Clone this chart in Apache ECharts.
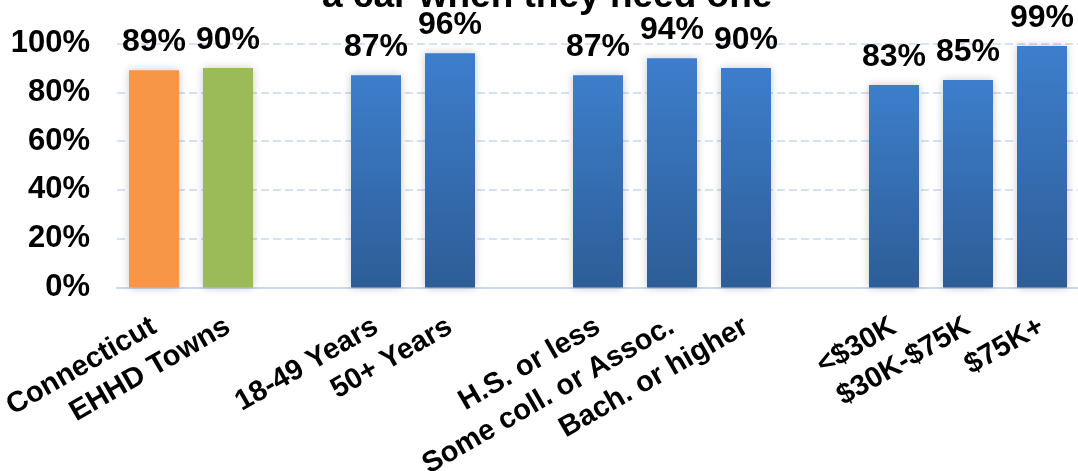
<!DOCTYPE html>
<html>
<head>
<meta charset="utf-8">
<script src="https://cdn.jsdelivr.net/npm/echarts@6/dist/echarts.min.js"></script>
<style>
html, body { margin: 0; padding: 0; background: #fff; }
#chart { width: 1078px; height: 471px; }
</style>
</head>
<body>
<div id="chart"></div>
<script>
// categories, empty strings are the spacer slots between groups
var categories = ['Connecticut', 'EHHD Towns', '', '18-49 Years', '50+ Years', '',
    'H.S. or less', 'Some coll. or Assoc.', 'Bach. or higher', '',
    '<$30K', '$30K-$75K', '$75K+'];
var percents = [89, 90, null, 87, 96, null, 87, 94, 90, null, 83, 85, 99];
var yTicks = [0, 20, 40, 60, 80, 100];
var titleText = 'a car when they need one';

var chartDom = document.getElementById('chart');
var myChart = echarts.init(chartDom);

var blue = new echarts.graphic.LinearGradient(0, 0, 0, 1, [
    { offset: 0, color: '#3d7ecc' },
    { offset: 1, color: '#2d5d97' }
]);

function barColor(i) {
    if (i === 0) return '#f79646';
    if (i === 1) return '#9bbb59';
    return blue;
}

var barData = percents.map(function (v, i) {
    if (v === null) return '-';
    return { value: v, itemStyle: { color: barColor(i) } };
});

var option = {
    animation: false,
    textStyle: { fontFamily: 'Liberation Sans, Arial, sans-serif' },
    title: {
        text: titleText,
        left: 317,
        top: -27,
        textStyle: { fontSize: 37, fontWeight: 'bold', color: '#000' }
    },
    grid: {
        left: 117,
        top: 43.5,
        width: 962,
        height: 244,
        containLabel: false,
        outerBoundsMode: 'none'
    },
    xAxis: {
        type: 'category',
        data: categories,
        axisTick: { show: false },
        axisLine: { lineStyle: { color: '#c9d9ee', width: 2 } },
        axisLabel: {
            interval: 0,
            rotate: 30,
            margin: 37,
            color: '#000',
            fontSize: 29,
            fontWeight: 'bold'
        }
    },
    yAxis: {
        type: 'value',
        min: yTicks[0],
        max: yTicks[yTicks.length - 1],
        interval: 20,
        axisLine: { show: false },
        axisTick: { show: false },
        axisLabel: {
            formatter: '{value}%',
            margin: 27,
            color: '#000',
            fontSize: 31,
            fontWeight: 'bold'
        },
        splitLine: {
            lineStyle: { color: '#d5e2f3', width: 2, type: [8, 4] }
        }
    },
    series: [{
        type: 'bar',
        data: barData,
        barWidth: 50,
        itemStyle: {
            shadowBlur: 8,
            shadowColor: 'rgba(0,0,0,0.22)'
        },
        label: {
            show: true,
            position: 'top',
            distance: 12,
            formatter: '{c}%',
            color: '#000',
            fontSize: 32,
            fontWeight: 'bold'
        }
    }]
};

myChart.setOption(option);
window.addEventListener('resize', function () {
    myChart.resize();
});
</script>
</body>
</html>
